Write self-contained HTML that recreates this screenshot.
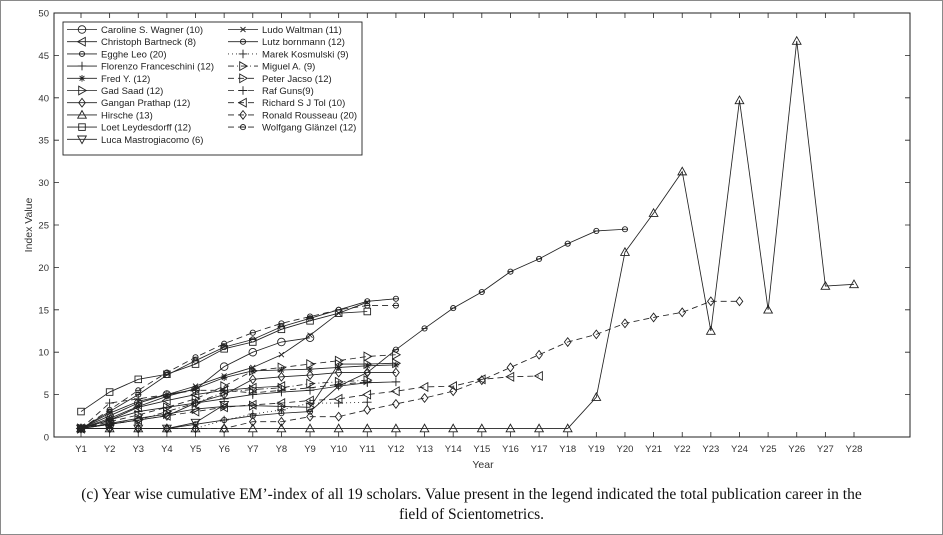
<!DOCTYPE html>
<html><head><meta charset="utf-8">
<style>
html,body{margin:0;padding:0;background:#fff;}
#wrap{position:relative;width:941px;height:533px;border:1px solid #8a8a8a;overflow:hidden;}
svg text{font-family:"Liberation Sans",Arial,sans-serif;}
.cap{position:absolute;left:0;top:484px;width:941px;text-align:center;font-family:"Liberation Serif",serif;font-size:15.5px;line-height:20px;color:#111;}
</style></head>
<body>
<div id="wrap">
<svg id="chart" width="941" height="480"></svg>
<div class="cap">(c) Year wise cumulative EM’-index of all 19 scholars. Value present in the legend indicated the total publication career in the<br>field of Scientometrics.</div>
</div>
<script>
const years = ["Y1","Y2","Y3","Y4","Y5","Y6","Y7","Y8","Y9","Y10","Y11","Y12","Y13","Y14","Y15","Y16","Y17","Y18","Y19","Y20","Y21","Y22","Y23","Y24","Y25","Y26","Y27","Y28"];
const yTicks = [0,5,10,15,20,25,30,35,40,45,50];
const names = ["Caroline S. Wagner (10)","Christoph Bartneck (8)","Egghe Leo (20)","Florenzo  Franceschini (12)","Fred Y. (12)","Gad Saad (12)","Gangan Prathap (12)","Hirsche (13)","Loet Leydesdorff (12)","Luca  Mastrogiacomo (6)","Ludo Waltman (11)","Lutz bornmann (12)","Marek Kosmulski (9)","Miguel A. (9)","Peter Jacso (12)","Raf Guns(9)","Richard S J Tol (10)","Ronald Rousseau (20)","Wolfgang Glänzel (12)"];
const markers = ["o","<","hex","+","*",">","d","^","s","v","x","hex","+",">",">","+","<","d","hex"];
const dashes = ["","","","","","","","","","","","","1,3","6,3,1,3","6,4","6,4","6,4","6,4","6,4"];
const sWagner = [1,2.5,4,5,5.6,8.3,10,11.2,11.7];
const sBartneck = [1,2,3.5,4.3,5,5.5,5.8,6];
const sEgghe = [1,1,1,1,1.5,2,2.5,2.8,3,6,7.6,10.3,12.8,15.2,17.1,19.5,21,22.8,24.3,24.5];
const sFranceschini = [1,2,3,3.5,4,4.5,5,5.3,5.5,6,6.4,6.5];
const sFred = [1,2.2,3.6,4.8,5.7,7,7.8,7.9,8,8.2,8.4,8.5];
const sSaad = [1,1.6,2.2,2.7,3.3,3.6,3.7,3.6,3.5,8.6,8.6,8.7];
const sPrathap = [1,1.5,2,2.5,4,5,6.8,7.1,7.3,7.6,7.6,7.6];
const sHirsche = [1,1,1,1,1,1,1,1,1,1,1,1,1,1,1,1,1,1,4.7,21.8,26.4,31.3,12.5,39.7,15,46.7,17.8,18];
const sLeydesdorff = [3,5.3,6.8,7.4,8.6,10.4,11.2,12.7,13.7,14.6,14.8];
const sLuca = [1,1,1,1,1.7,3.8];
const sWaltman = [1,2.8,4.2,5,6,7.2,8.2,9.7,12,14.6,15.9];
const sBornmann = [1,3,5,7.3,9,10.6,11.5,13,14,15,16,16.3];
const sKosmulski = [1,1,1,1,1,2,2.7,3.2,4,4,4.1];
const sMiguel = [1,1.5,2,3,4,5.3,5.6,5.8,6.3,6.5,6.7];
const sJacso = [1,1.8,2.6,3.5,4.5,6,7.8,8.2,8.6,9,9.5,9.7];
const sGuns = [1,4,4.5,5,5.5,5.5,5.2,5.5,5.8,6.2,6.5];
const sTol = [1,1.5,2,2.5,3,3.5,3.8,4,4.3,4.5,5,5.4,5.9,6,6.8,7.1,7.2];
const sRousseau = [1,1,1,1,1,1,1.8,1.8,2.4,2.4,3.2,3.9,4.6,5.4,6.7,8.2,9.7,11.2,12.1,13.4,14.1,14.7,16,16];
const sGlanzel = [1,3.2,5.5,7.6,9.4,11,12.3,13.4,14.2,15,15.5,15.5];
const series = [sWagner,sBartneck,sEgghe,sFranceschini,sFred,sSaad,sPrathap,sHirsche,sLeydesdorff,sLuca,sWaltman,sBornmann,sKosmulski,sMiguel,sJacso,sGuns,sTol,sRousseau,sGlanzel];

const L=53,R=909,T=12,B=436,X0=80,X1=853;
const xs=i=>X0+(X1-X0)*i/(years.length-1);
const ys=v=>B-(B-T)*v/50;
const NS="http://www.w3.org/2000/svg";
const svg=document.getElementById('chart');
function el(tag,attrs,parent){const e=document.createElementNS(NS,tag);for(const k in attrs)e.setAttribute(k,attrs[k]);(parent||svg).appendChild(e);return e;}

function marker(g,type,x,y){
  const st={fill:"none",stroke:"#222","stroke-width":0.9};
  let m;
  const r=3.3;
  if(type==="o"){m=el('circle',Object.assign({cx:x,cy:y,r:r+0.5},st),g);}
  else if(type==="s"){m=el('rect',Object.assign({x:x-r,y:y-r,width:2*r,height:2*r},st),g);}
  else if(type==="d"){m=el('polygon',Object.assign({points:`${x},${y-r-1} ${x+r},${y} ${x},${y+r+1} ${x-r},${y}`},st),g);}
  else if(type==="^"){m=el('polygon',Object.assign({points:`${x},${y-r-1} ${x+r+1},${y+r} ${x-r-1},${y+r}`},st),g);}
  else if(type==="v"){m=el('polygon',Object.assign({points:`${x},${y+r+1} ${x+r+1},${y-r} ${x-r-1},${y-r}`},st),g);}
  else if(type===">"){m=el('polygon',Object.assign({points:`${x+r+1},${y} ${x-r},${y-r-1} ${x-r},${y+r+1}`},st),g);}
  else if(type==="<"){m=el('polygon',Object.assign({points:`${x-r-1},${y} ${x+r},${y-r-1} ${x+r},${y+r+1}`},st),g);}
  else if(type==="+"){m=el('path',Object.assign({d:`M${x-r-1},${y}H${x+r+1}M${x},${y-r-1}V${y+r+1}`},st),g);}
  else if(type==="x"){m=el('path',Object.assign({d:`M${x-2.5},${y-2.5}L${x+2.5},${y+2.5}M${x-2.5},${y+2.5}L${x+2.5},${y-2.5}`},st),g);}
  else if(type==="*"){m=el('path',Object.assign({d:`M${x-r},${y}H${x+r}M${x},${y-r}V${y+r}M${x-2.4},${y-2.4}L${x+2.4},${y+2.4}M${x-2.4},${y+2.4}L${x+2.4},${y-2.4}`},st),g);}
  else {m=el('circle',Object.assign({cx:x,cy:y,r:2.6},st),g);el('path',Object.assign({d:`M${x-3},${y}H${x+3}`},st),g);}
  
  
}

// axes box
const box=el('rect',{x:L,y:T,width:R-L,height:B-T,fill:"none",stroke:"#222","stroke-width":1});

const gx=el('g',{});
years.forEach((t,i)=>{const x=xs(i);
  el('path',{d:`M${x},${B}V${B-5}M${x},${T}V${T+5}`,stroke:"#222","stroke-width":0.8},gx);
  const tx=el('text',{x:x,y:B+15,"font-size":9.5,"text-anchor":"middle",fill:"#333"},gx);tx.textContent=t;
  });
const gy=el('g',{});
yTicks.forEach(v=>{const y=ys(v);
  el('path',{d:`M${L},${y}H${L+5}M${R},${y}H${R-5}`,stroke:"#222","stroke-width":0.8},gy);
  const tx=el('text',{x:L-5,y:y+3.5,"font-size":9.5,"text-anchor":"end",fill:"#333"},gy);tx.textContent=v;
  });
const xt=el('text',{x:482,y:467,"font-size":10.5,"text-anchor":"middle",fill:"#333"});xt.textContent="Year";

const yt=el('text',{x:0,y:0,"font-size":10.5,"text-anchor":"middle",fill:"#333",transform:"translate(31,224) rotate(-90)"});yt.textContent="Index Value";


// series
series.forEach((s,k)=>{
  const g=el('g',{});
  
  
  const pts=s.map((v,i)=>xs(i)+","+ys(v)).join(" ");
  const pl=el('polyline',{points:pts,fill:"none",stroke:"#222","stroke-width":0.85,"stroke-dasharray":dashes[k]||"none"},g);
  
  s.forEach((v,i)=>marker(g,markers[k],xs(i),ys(v)));
});

// legend
const lg=el('g',{});
el('rect',{x:62,y:21,width:299,height:133,fill:"#fff",stroke:"#222","stroke-width":0.9},lg);
names.forEach((n,k)=>{
  const col=k<10?0:1,row=k<10?k:k-10;
  const x0=col?227:66,y=28.5+row*12.2;
  const e=el('g',{},lg);
  
  el('path',{d:`M${x0},${y}H${x0+30}`,stroke:"#222","stroke-width":0.85,"stroke-dasharray":dashes[k]||"none"},e);
  marker(e,markers[k],x0+15,y);
  const t=el('text',{x:x0+34,y:y+3.5,"font-size":9.5,fill:"#222"},e);t.textContent=n;
});
</script>
</body></html>
